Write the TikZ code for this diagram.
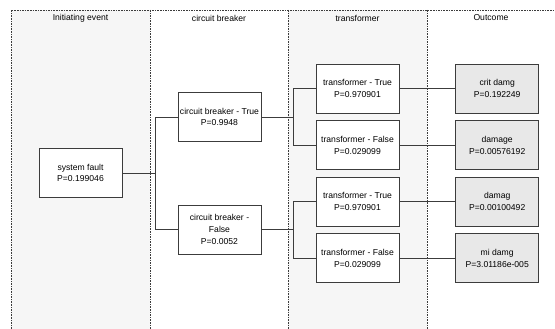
\documentclass[tikz,border=0pt]{standalone}
\usepackage{fontspec}
\setmainfont{Liberation Sans}
\usetikzlibrary{positioning}
\definecolor{lanegray}{RGB}{246,246,246}
\definecolor{outcomegray}{RGB}{232,232,232}
\definecolor{framegray}{RGB}{60,60,60}
\tikzset{
    lane/.style={draw=framegray, line width=0.7pt, dash pattern=on 1.6pt off 1pt},
    header/.style={font=\fontsize{8.6}{10}\selectfont, inner sep=0pt},
    event/.style={rectangle, draw=framegray, fill=white, line width=0.7pt, minimum width=83pt, minimum height=49pt, align=center, inner sep=1pt, font=\fontsize{8.6}{11.7}\selectfont},
    outcome/.style={event, fill=outcomegray},
    link/.style={draw=framegray, line width=0.7pt}
}
\begin{document}
\begin{tikzpicture}[x=1pt, y=-1pt]
        \useasboundingbox (0,0) rectangle (555,329);
        % swim lanes
        \fill[lanegray] (11,10) rectangle (150,329);
        \fill[lanegray] (288,10) rectangle (427,329);
        \draw[lane] (11,329) -- (11,10) -- (556,10);
        \foreach \x in {150,288,427}
            \draw[lane] (\x,10) -- (\x,329);
        
        \node[header] (initial) at (80.5,18) {Initiating event};
        \node[header] (breaker) at (219,18) {circuit breaker};
        \node[header] (transf) at (357.5,18) {transformer};
        \node[header] (result) at (491,18) {Outcome};
        
        % events
        \node[event] (fault) at (80.5,173) {system fault\\P=0.199046};
        \node[event] (cbtrue) at (219.5,117) {circuit breaker - True\\P=0.9948};
        \node[event] (cbfalse) at (219.5,229.5) {circuit breaker -\\False\\P=0.0052};
        
        \node[event] (tftrueA) at (357.5,88.5) {transformer - True\\P=0.970901};
        \node[event, below=7pt of tftrueA] (tffalseA) {transformer - False\\P=0.029099};
        \node[event] (tftrueB) at (357.5,201.5) {transformer - True\\P=0.970901};
        \node[event, below=7pt of tftrueB] (tffalseB) {transformer - False\\P=0.029099};
        
        % outcomes
        \node[outcome, right=56pt of tftrueA] (critdamg) {crit damg\\P=0.192249};
        \node[outcome, right=56pt of tffalseA] (damage) {damage\\P=0.00576192};
        \node[outcome, right=56pt of tftrueB] (damag) {damag\\P=0.00100492};
        \node[outcome, right=56pt of tffalseB] (midamg) {mi damg\\P=3.01186e-005};
        
        % branches
        \coordinate (forkfault) at (155.5,173);
        \coordinate (forktrue) at (293,117);
        \coordinate (forkfalse) at (293,229.5);
        
        \draw[link] (fault.east) -- (forkfault);
        \draw[link] (forkfault) |- (cbtrue.west);
        \draw[link] (forkfault) |- (cbfalse.west);
        
        \draw[link] (cbtrue.east) -- (forktrue);
        \draw[link] (forktrue) |- (tftrueA.west);
        \draw[link] (forktrue) |- (tffalseA.west);
        \draw[link] (cbfalse.east) -- (forkfalse);
        \draw[link] (forkfalse) |- (tftrueB.west);
        \draw[link] (forkfalse) |- (tffalseB.west);
        
        \draw[link] (tftrueA) -- (critdamg);
        \draw[link] (tffalseA) -- (damage);
        \draw[link] (tftrueB) -- (damag);
        \draw[link] (tffalseB) -- (midamg);
    \end{tikzpicture}
\end{document}
